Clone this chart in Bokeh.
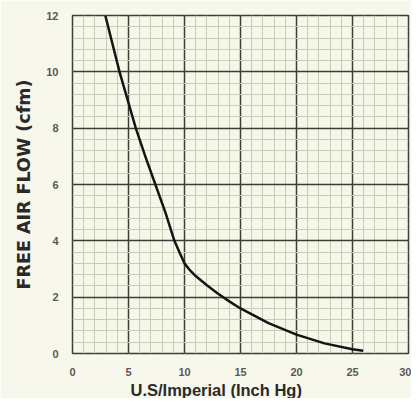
from bokeh.plotting import figure
from bokeh.models import Range1d, SingleIntervalTicker, Title
from bokeh.embed import file_html
from bokeh.resources import INLINE

# Data
vacuum_inhg = [2.93, 4.2, 5.65, 6.5, 7.4, 8.3, 9.1, 9.6, 10.0, 10.5, 11.0, 12.0, 13.0, 14.0, 15.0,
               17.5, 20.0, 22.5, 25.0, 25.95]
flow_cfm = [12.0, 10.0, 8.0, 7.0, 6.0, 5.0, 4.0, 3.55, 3.2, 2.95, 2.75, 2.42, 2.12, 1.85, 1.6,
            1.08, 0.67, 0.36, 0.15, 0.1]

x_label = "U.S/Imperial (Inch Hg)"
y_label = "FREE AIR FLOW (cfm)"

p = figure(width=411, height=398, output_backend="svg", toolbar_location=None,
           x_range=Range1d(0, 30), y_range=Range1d(0, 12),
           min_border_left=72, min_border_right=3, min_border_top=15, min_border_bottom=45)

p.background_fill_color = "#f5f7e8"
p.border_fill_color = "#f8f7ec"
p.outline_line_color = "#3a4036"
p.outline_line_width = 1.5

p.xaxis.ticker = SingleIntervalTicker(interval=5, num_minor_ticks=5)
p.yaxis.ticker = SingleIntervalTicker(interval=2, num_minor_ticks=5)

for ax in (p.xaxis[0], p.yaxis[0]):
    ax.axis_line_color = None
    ax.major_tick_line_color = None
    ax.minor_tick_line_color = None
    ax.major_tick_out = 0
    ax.minor_tick_out = 0
    ax.major_label_text_font = "Liberation Sans"
    ax.major_label_text_font_style = "bold"
    ax.major_label_text_font_size = "11px"
    ax.major_label_text_color = "#5a5a55"

p.xaxis.major_label_standoff = 14
p.yaxis.major_label_standoff = 14

p.yaxis.axis_label = y_label
p.yaxis.axis_label_text_font = "DejaVu Sans"
p.yaxis.axis_label_text_font_style = "bold"
p.yaxis.axis_label_text_font_size = "17.5px"
p.yaxis.axis_label_text_color = "#2a2a2a"
p.yaxis.axis_label_standoff = 9

p.add_layout(Title(text=x_label, align="left", offset=58,
                   text_font="Liberation Sans", text_font_style="bold",
                   text_font_size="16.5px", text_color="#2a2a2a", standoff=0), "below")

p.xgrid.grid_line_color = "#3a4036"
p.ygrid.grid_line_color = "#3a4036"
p.xgrid.grid_line_width = 1.5
p.ygrid.grid_line_width = 1.5
p.xgrid.minor_grid_line_color = "#c6ccb8"
p.ygrid.minor_grid_line_color = "#c6ccb8"
p.xgrid.minor_grid_line_width = 1
p.ygrid.minor_grid_line_width = 1

p.line(vacuum_inhg, flow_cfm, line_color="#151515", line_width=2.5, line_join="round")

open("out.html", "w").write(file_html(p, INLINE))
